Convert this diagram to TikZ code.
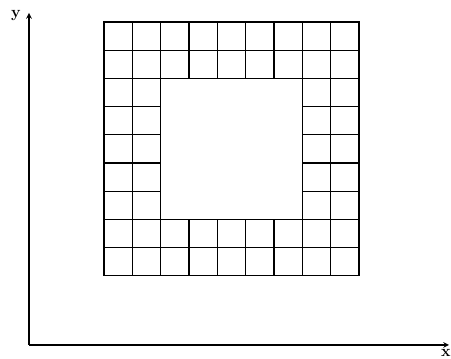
\documentclass[tikz,border=0pt]{standalone}
\usepackage{tikz}
\usetikzlibrary{arrows}

\begin{document}
\begin{tikzpicture}[x=0.75pt, y=-0.75pt, line width=0.9pt]
		\useasboundingbox (0, 0) rectangle (451, 359);
		% axes
		\coordinate (O) at (29, 345);
		\coordinate (ytip) at (29, 13);
		\coordinate (xtip) at (449, 345);
		\draw [->,>=stealth] (O) -- (ytip);
		\draw [->,>=stealth] (O) -- (xtip);
		\node[font=\large\bfseries] (ylab) at (16, 16) {y};
		\node[font=\large\bfseries] (xlab) at (446, 353) {x};

		% square ring of cells, 9 by 9 with a 5 by 5 hole
		\begin{scope}[shift={(104, 22)}, x=21.25pt, y=-21.15pt]
			\foreach \i in {0,...,8} {
				\foreach \j in {0,...,8} {
					\pgfmathtruncatemacro{\inhole}{and(and(\i>1,\i<7),and(\j>1,\j<7))}
					\ifnum\inhole=0
						\draw (\i, \j) rectangle ++(1, 1);
					\fi
				}
			}
		\end{scope}
\end{tikzpicture}
\end{document}
